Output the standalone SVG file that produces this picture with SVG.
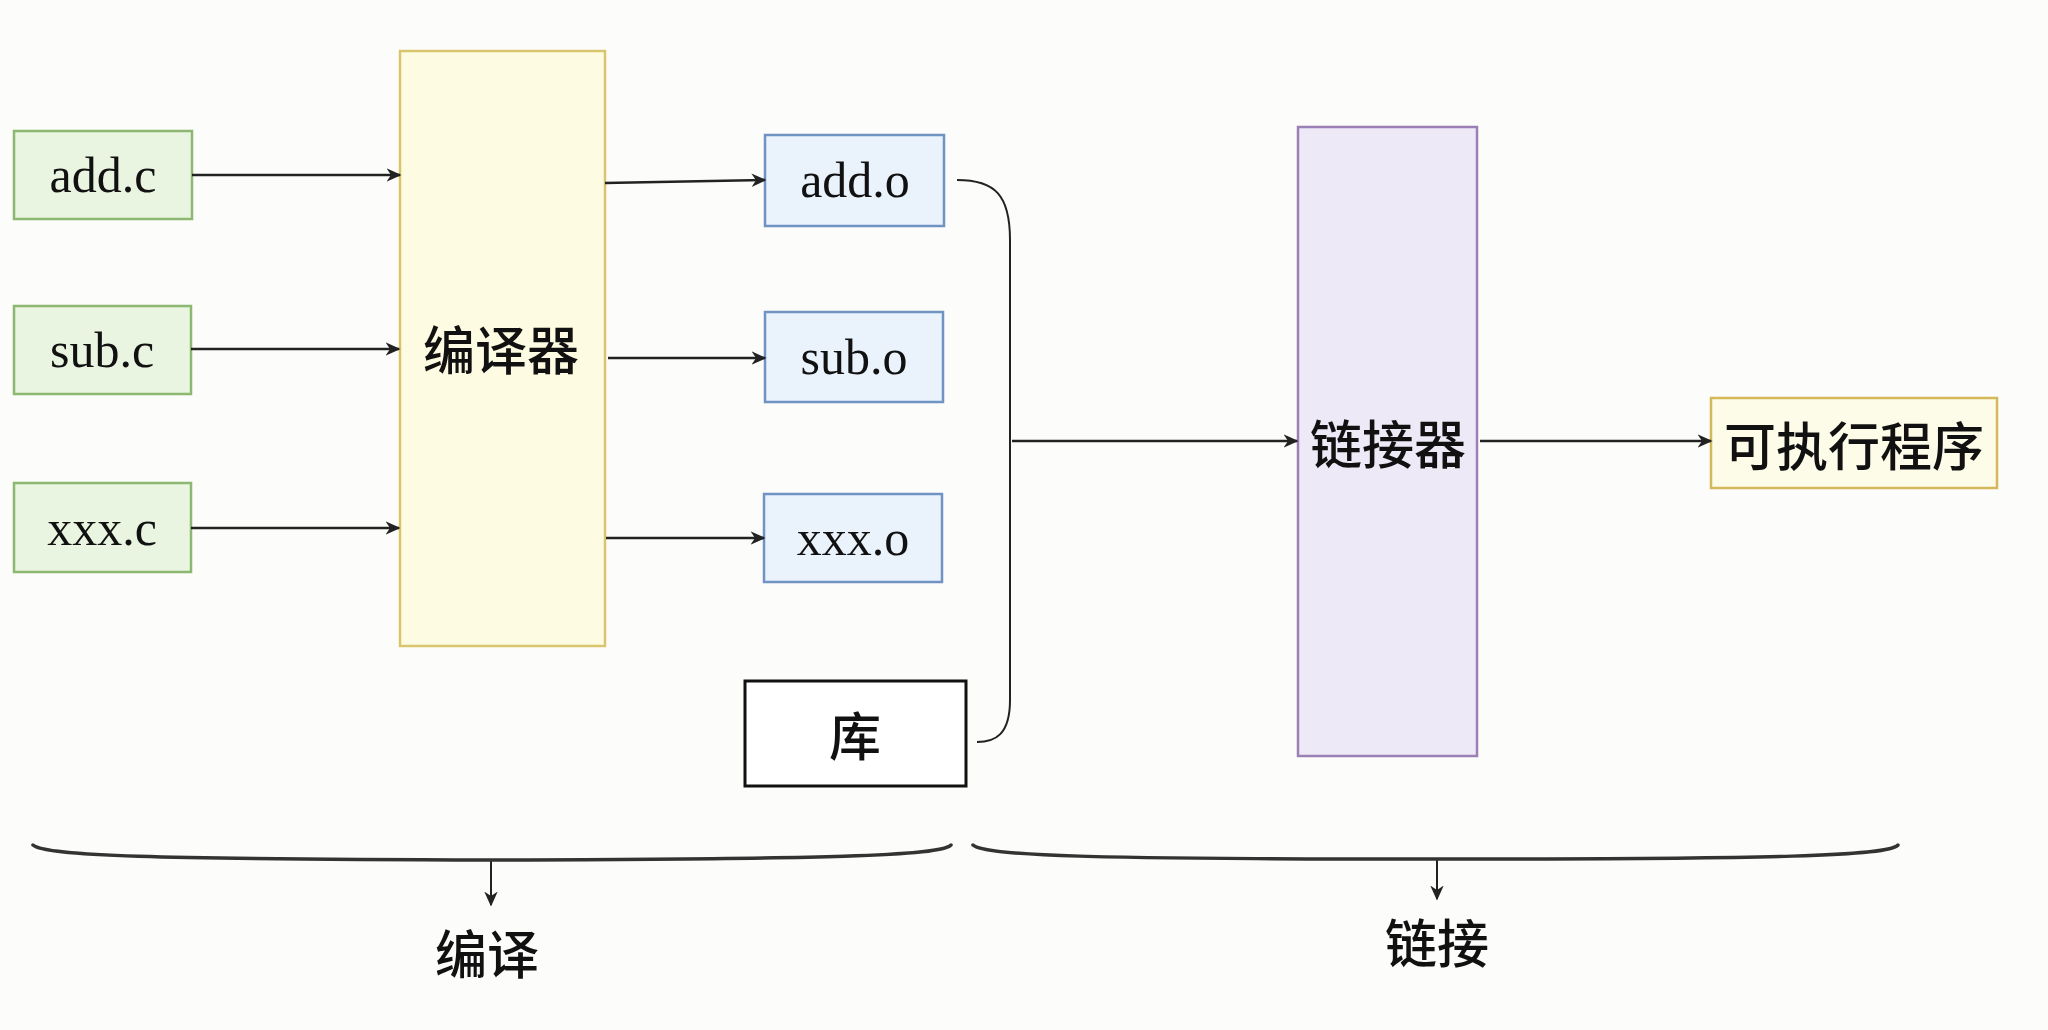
<svg xmlns="http://www.w3.org/2000/svg" width="2048" height="1030" viewBox="0 0 2048 1030">
<defs>
<marker id="ah" viewBox="0 0 10 10" refX="9" refY="5" markerWidth="15" markerHeight="15" markerUnits="userSpaceOnUse" orient="auto">
<path d="M0,0.5 L10,5 L0,9.5 L3,5 Z" fill="#222"/>
</marker>
</defs>
<style>
.src rect{fill:#e9f5e1;stroke:#8cb872;stroke-width:2.5}
.obj rect{fill:#eaf3fc;stroke:#6f93c2;stroke-width:2.5}
.t{font-family:"Liberation Serif","Times New Roman",serif;font-size:50px;fill:#111;text-anchor:middle;dominant-baseline:central}
.c{font-family:"Noto Sans CJK SC","Noto Sans",sans-serif;font-size:52px;font-weight:500;fill:#111;text-anchor:middle;dominant-baseline:central}
.conn path{fill:none;stroke:#222;stroke-width:2.6}
.brace{fill:none;stroke:#333;stroke-width:3.5;stroke-linecap:round}
</style>
<rect width="2048" height="1030" fill="#fcfcfa"/>
<g id="add_c" class="src"><rect x="14" y="131" width="178" height="88"/><text class="t" x="103" y="175">add.c</text></g>
<g id="sub_c" class="src"><rect x="14" y="306" width="177" height="88"/><text class="t" x="102" y="350">sub.c</text></g>
<g id="xxx_c" class="src"><rect x="14" y="483" width="177" height="89"/><text class="t" x="102" y="528">xxx.c</text></g>
<g id="compiler"><rect x="400" y="51" width="205" height="595" fill="#fdfbe1" stroke="#d9c56e" stroke-width="2.5"/><text class="c" x="501" y="347">编译器</text></g>
<g id="add_o" class="obj"><rect x="765" y="135" width="179" height="91"/><text class="t" x="855" y="180">add.o</text></g>
<g id="sub_o" class="obj"><rect x="765" y="312" width="178" height="90"/><text class="t" x="854" y="357">sub.o</text></g>
<g id="xxx_o" class="obj"><rect x="764" y="494" width="178" height="88"/><text class="t" x="853" y="538">xxx.o</text></g>
<g id="lib"><rect x="745" y="681" width="221" height="105" fill="#ffffff" stroke="#111" stroke-width="3"/><text class="c" x="855" y="733">库</text></g>
<g id="linker"><rect x="1298" y="127" width="179" height="629" fill="#eee9f6" stroke="#9a80b5" stroke-width="2.5"/><text class="c" x="1388" y="441">链接器</text></g>
<g id="exe"><rect x="1711" y="398" width="286" height="90" fill="#fdfce9" stroke="#d4b95a" stroke-width="2.5"/><text class="c" x="1854" y="443">可执行程序</text></g>
<g id="connectors" class="conn">
<path d="M192,175 L400,175" marker-end="url(#ah)"/>
<path d="M191,349 L399,349" marker-end="url(#ah)"/>
<path d="M191,528 L399,528" marker-end="url(#ah)"/>
<path d="M605,183 L765,180" marker-end="url(#ah)"/>
<path d="M608,358 L765,358" marker-end="url(#ah)"/>
<path d="M606,538 L764,538" marker-end="url(#ah)"/>
<path d="M957,180 C995,180 1010,195 1010,240 L1010,700 C1010,735 995,742 977,742" style="stroke-width:2"/>
<path d="M1012,441 L1297,441" marker-end="url(#ah)"/>
<path d="M1480,441 L1711,441" marker-end="url(#ah)"/>
<path d="M491,860 L491,905" style="stroke-width:2" marker-end="url(#ah)"/>
<path d="M1437,859 L1437,899" style="stroke-width:2" marker-end="url(#ah)"/>
</g>
<g id="brace_compile"><path class="brace" d="M33,845 C45,856 150,859 491,860 C830,859 940,856 951,845"/></g>
<g id="brace_link"><path class="brace" d="M973,845 C985,856 1090,859 1437,859 C1780,859 1888,856 1898,845"/></g>
<g id="label_compile"><text class="c" x="487" y="951">编译</text></g>
<g id="label_link"><text class="c" x="1437" y="940">链接</text></g>
</svg>
